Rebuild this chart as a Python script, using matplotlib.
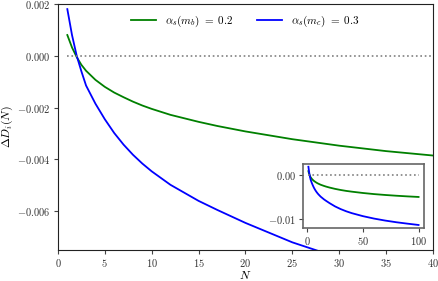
import matplotlib
matplotlib.use("Agg")
import matplotlib.pyplot as plt
from matplotlib.ticker import FuncFormatter

plt.rcParams['mathtext.fontset'] = 'cm'
plt.rcParams['font.family'] = 'serif'
plt.rcParams['font.serif'] = ['DejaVu Serif']

# moments N and the shift Delta D_i(N) for the two couplings
N = [1, 1.5, 2, 2.5, 3, 4, 5, 6, 7, 8, 9, 10, 12, 15, 17, 20, 25, 30, 35, 40,
     50, 60, 70, 80, 90, 100]
delta_b = [0.0008, 0.00032, -0.00005, -0.00035, -0.00058, -0.00093, -0.0012, -0.00142,
           -0.0016, -0.00177, -0.00192, -0.00205, -0.00228, -0.00255, -0.00271, -0.00292,
           -0.00322, -0.00347, -0.00368, -0.00385, -0.00415, -0.0044, -0.0046, -0.00477,
           -0.00492, -0.00505]
delta_c = [0.0018, 0.0008, 0.0, -0.0006, -0.00115, -0.00185, -0.00245, -0.00298,
           -0.00343, -0.00382, -0.00416, -0.00446, -0.00498, -0.0056, -0.00595, -0.00645,
           -0.0072, -0.0078, -0.0083, -0.00872, -0.0094, -0.00995, -0.0104, -0.01078,
           -0.0111, -0.0114]
zeros = [0.0] * len(N)

label_b = r'$\alpha_s(m_b)\ =\ 0.2$'
label_c = r'$\alpha_s(m_c)\ =\ 0.3$'


def math_fmt(digits):
    return FuncFormatter(lambda v, pos: '$%.*f$' % (digits, 0.0 if abs(v) < 1e-12 else v))


fig = plt.figure(figsize=(4.39, 2.81), dpi=100)
ax = fig.add_axes([0.132, 0.110, 0.854, 0.876])
ax.plot(N, delta_b, color='green', lw=1.3, label=label_b)
ax.plot(N, delta_c, color='blue', lw=1.3, label=label_c)
ax.plot(N, zeros, ':', color='grey', lw=1.2)
ax.set_xlim(0, 40)
ax.set_ylim(-0.0075, 0.002)
ax.set_yticks([0.002, 0.0, -0.002, -0.004, -0.006])
ax.set_xticks([0, 5, 10, 15, 20, 25, 30, 35, 40])
ax.yaxis.set_major_formatter(math_fmt(3))
ax.xaxis.set_major_formatter(FuncFormatter(lambda v, pos: '$%d$' % v))
ax.tick_params(labelsize=7.5, colors='#444444', labelcolor='#333333', length=3, pad=2.5)
ax.tick_params(axis='x', pad=2)
ax.set_xlabel(r'$N$', fontsize=8.5)
ax.set_ylabel(r'$\Delta D_i(N)$', fontsize=8.5)
ax.xaxis.set_label_coords(0.5, -0.076)
ax.yaxis.set_label_coords(-0.115, 0.5)
ax.legend(loc='upper center', ncol=2, frameon=False, fontsize=8,
          bbox_to_anchor=(0.5, 1.0), handlelength=2.2, columnspacing=2.2)
for s in ax.spines.values():
    s.set_color('#222222')

ins = fig.add_axes([0.690, 0.189, 0.276, 0.228])
ins.plot(N, delta_b, color='green', lw=1.3)
ins.plot(N, delta_c, color='blue', lw=1.3)
ins.plot(N, zeros, ':', color='grey', lw=1.2)
ins.set_xticks([0, 50, 100])
ins.set_yticks([0.0, -0.01])
ins.yaxis.set_major_formatter(math_fmt(2))
ins.xaxis.set_major_formatter(FuncFormatter(lambda v, pos: '$%d$' % v))
ins.tick_params(labelsize=7.5, colors='#444444', labelcolor='#333333', pad=2, length=3)
for s in ins.spines.values():
    s.set_color('#666666')
    s.set_linewidth(1.2)

fig.savefig('out.png', dpi=100)
